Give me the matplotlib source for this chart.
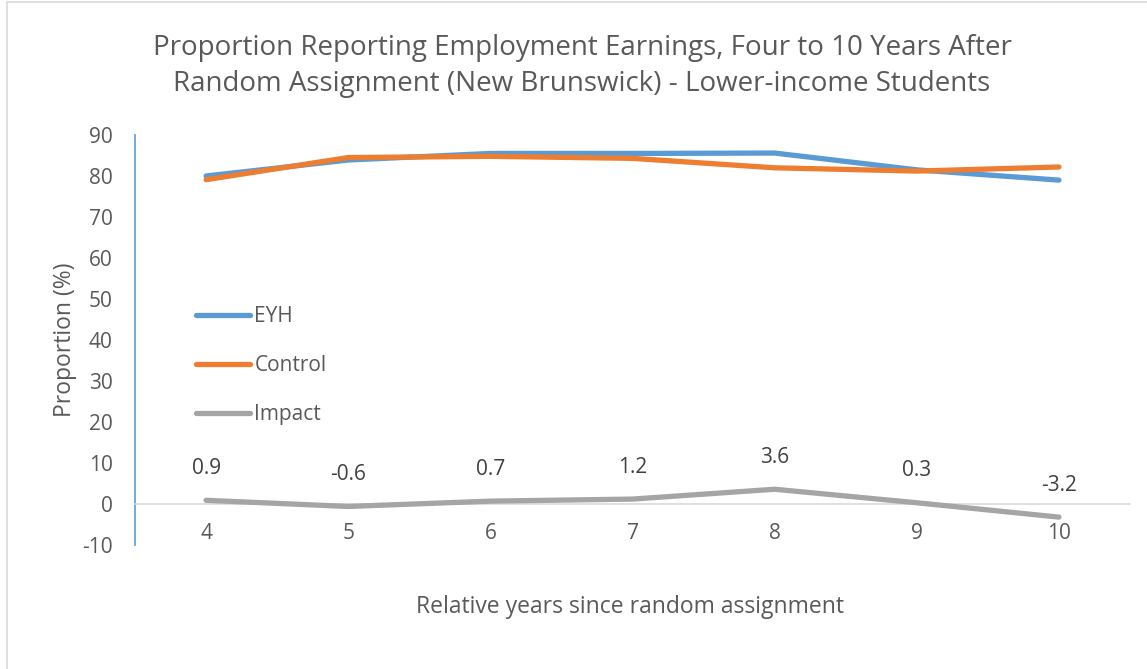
import matplotlib
matplotlib.use("Agg")
import matplotlib.pyplot as plt
from matplotlib.patches import Rectangle

years = [4, 5, 6, 7, 8, 9, 10]
eyh = [80.0, 83.9, 85.5, 85.5, 85.6, 81.5, 79.0]
control = [79.1, 84.5, 84.8, 84.3, 82.0, 81.2, 82.2]
impact = [0.9, -0.6, 0.7, 1.2, 3.6, 0.3, -3.2]
yticks = [-10, 0, 10, 20, 30, 40, 50, 60, 70, 80, 90]

plt.rcParams['font.family'] = ['Open Sans', 'DejaVu Sans']
plt.rcParams['axes.unicode_minus'] = False
TXT = '#595959'

W, H = 1147, 669
fig = plt.figure(figsize=(W / 100, H / 100), dpi=100)
fig.patch.set_facecolor('white')
# chart-area border (left and top visible)
fig.add_artist(Rectangle((7 / W, -0.1), 1.2, 1 - 2 / H + 0.1, transform=fig.transFigure,
                         fill=False, edgecolor='#D9D9D9', linewidth=1.2))

ax = fig.add_axes([135 / W, 1 - 545 / H, (1130 - 135) / W, (545 - 135) / H])
ax.set_xlim(3.5, 10.5)
ax.set_ylim(-10, 90)

lw = 3.8
ax.plot(years, eyh, color='#5B9BD5', lw=lw, solid_capstyle='round', solid_joinstyle='round', label='EYH', zorder=3)
ax.plot(years, control, color='#ED7D31', lw=lw, solid_capstyle='round', solid_joinstyle='round', label='Control', zorder=4)
ax.plot(years, impact, color='#A5A5A5', lw=lw, solid_capstyle='round', solid_joinstyle='round', label='Impact', zorder=3)

for x, v in zip(years, impact):
    ax.annotate(f"{v:.1f}", (x, v), xytext=(0, 23), textcoords='offset points',
                ha='center', va='center', fontsize=15, color='#404040')

for s in ['top', 'right']:
    ax.spines[s].set_visible(False)
ax.spines['left'].set_color('#5B9BD5')
ax.spines['left'].set_linewidth(1.2)
ax.spines['bottom'].set_position(('data', 0))
ax.spines['bottom'].set_color('#D9D9D9')
ax.spines['bottom'].set_linewidth(1.2)

ax.set_xticks(years)
ax.set_xticklabels([str(y) for y in years])
ax.set_yticks(yticks)
ax.tick_params(axis='x', length=0, pad=14, labelsize=15, labelcolor=TXT)
ax.tick_params(axis='y', length=0, pad=16, labelsize=15, labelcolor=TXT)

ax.set_ylabel('Proportion (%)', fontsize=16.5, color=TXT, labelpad=4)
fig.text(630 / W, 1 - 607 / H, 'Relative years since random assignment', ha='center', va='center',
         fontsize=16.5, color=TXT)

fig.text(582 / W, 1 - 66 / H,
         'Proportion Reporting Employment Earnings, Four to 10 Years After\nRandom Assignment (New Brunswick) - Lower-income Students',
         ha='center', va='center', fontsize=20, color=TXT, linespacing=1.42)

leg = ax.legend(loc='upper left', bbox_to_anchor=((196 - 135) / (1130 - 135), (545 - 306) / 410),
                frameon=False, fontsize=15, labelspacing=1.35, handlelength=2.6, handletextpad=0.2,
                borderaxespad=0, borderpad=0)
for t in leg.get_texts():
    t.set_color(TXT)

fig.savefig('out.png', dpi=100, facecolor='white')
